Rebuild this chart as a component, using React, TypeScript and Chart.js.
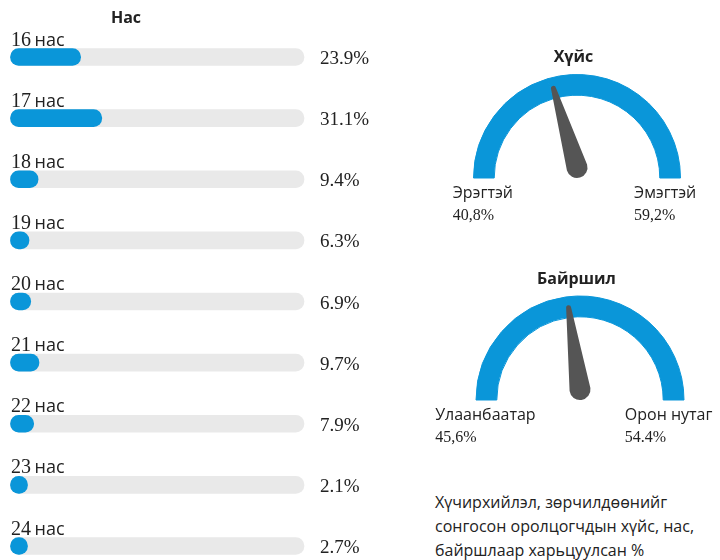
import React, { useEffect, useRef } from "react";
import { Chart, registerables } from "chart.js";

Chart.register(...registerables);

// ---------- DATA ----------
const ageTitle = "Нас";
const ageNumbers = ["16", "17", "18", "19", "20", "21", "22", "23", "24"];
const ageWord = "нас";
const ageValues = [23.9, 31.1, 9.4, 6.3, 6.9, 9.7, 7.9, 2.1, 2.7];
const ageValueLabels = ["23.9%", "31.1%", "9.4%", "6.3%", "6.9%", "9.7%", "7.9%", "2.1%", "2.7%"];
const ageMax = 100;

const genderTitle = "Хүйс";
const genderLabels = ["Эрэгтэй", "Эмэгтэй"];
const genderValues = [40.8, 59.2];
const genderValueLabels = ["40,8%", "59,2%"];

const locationTitle = "Байршил";
const locationLabels = ["Улаанбаатар", "Орон нутаг"];
const locationValues = [45.6, 54.4];
const locationValueLabels = ["45,6%", "54.4%"];

const noteLines = [
  "Хүчирхийлэл, зөрчилдөөнийг",
  "сонгосон оролцогчдын хүйс, нас,",
  "байршлаар харьцуулсан %",
];

// ---------- STYLE ----------
const BLUE = "#0a96d9";
const TRACK = "#e9e9e9";
const NEEDLE = "#555555";
const TEXT = "#222222";
const SERIF = '"Liberation Serif", "Times New Roman", serif';
const SANS = '"Open Sans", "Noto Sans", sans-serif';

function makeBarChart(canvas: HTMLCanvasElement) {
  const labelPlugin = {
    id: "ageLabels",
    afterDatasetsDraw(chart: any) {
      const { ctx, chartArea } = chart;
      const ys = chart.scales.y;
      const xs = chart.scales.x;
      ctx.save();
      ctx.fillStyle = TEXT;
      ctx.textBaseline = "alphabetic";
      ctx.textAlign = "center";
      ctx.font = `bold 16px ${SANS}`;
      ctx.fillText(ageTitle, 126, 22.7);
      ctx.textAlign = "left";
      ageNumbers.forEach((num, i) => {
        const y = ys.getPixelForValue(i);
        const x0 = chartArea.left + 0.5;
        ctx.font = `20px ${SERIF}`;
        ctx.fillText(num, x0, y - 11.4);
        const w = ctx.measureText(num).width;
        ctx.font = `18px ${SANS}`;
        ctx.fillText(ageWord, x0 + w + 3.5, y - 11.4);
        ctx.font = `19px ${SERIF}`;
        ctx.fillText(ageValueLabels[i], xs.getPixelForValue(ageMax) + 16, y + 7);
      });
      ctx.restore();
    },
  };

  return new Chart(canvas, {
    type: "bar",
    data: {
      labels: ageNumbers.map((n) => `${n} ${ageWord}`),
      datasets: [
        {
          data: ageValues,
          backgroundColor: BLUE,
          order: 1,
          minBarLength: 17,
        },
        {
          data: ageNumbers.map(() => ageMax),
          backgroundColor: TRACK,
          order: 2,
        },
      ],
    },
    options: {
      indexAxis: "y",
      animation: false,
      responsive: false,
      events: [],
      layout: { padding: { left: 10.5, right: 96, top: 57, bottom: 14 } },
      datasets: {
        bar: {
          grouped: false,
          barThickness: 17,
          borderRadius: 9,
          borderSkipped: false,
          clip: false,
        } as any,
      },
      scales: {
        x: { display: false, min: 0, max: ageMax },
        y: { display: false, offset: false },
      },
      plugins: {
        legend: { display: false },
        tooltip: { enabled: false },
        title: { display: false },
      },
    } as any,
    plugins: [labelPlugin],
  });
}

function makeGauge(
  canvas: HTMLCanvasElement,
  title: string,
  labels: string[],
  values: number[],
  valueLabels: string[],
  padding: { left: number; right: number; top: number; bottom: number }
) {
  const gaugePlugin = {
    id: "gaugeExtras",
    afterDatasetsDraw(chart: any) {
      const { ctx } = chart;
      const arc = chart.getDatasetMeta(0).data[0] as any;
      const cx = arc.x;
      const cy = arc.y;
      const outer = arc.outerRadius;
      const inner = arc.innerRadius;
      const total = values.reduce((a, b) => a + b, 0);
      const frac = values[0] / total;
      const angle = Math.PI + frac * Math.PI;

      // needle
      const px = cx;
      const py = cy - 10.5;
      const L = 82.5;
      const R = 10.5;
      const r = 2.5;
      ctx.save();
      ctx.translate(px, py);
      ctx.rotate(angle);
      ctx.beginPath();
      ctx.moveTo(0, -R);
      ctx.lineTo(L, -r);
      ctx.arc(L, 0, r, -Math.PI / 2, Math.PI / 2);
      ctx.lineTo(0, R);
      ctx.arc(0, 0, R, Math.PI / 2, (3 * Math.PI) / 2);
      ctx.closePath();
      ctx.fillStyle = NEEDLE;
      ctx.fill();
      ctx.restore();

      // title
      ctx.save();
      ctx.fillStyle = TEXT;
      ctx.textBaseline = "alphabetic";
      ctx.textAlign = "center";
      ctx.font = `bold 16px ${SANS}`;
      ctx.fillText(title, cx - 3.5, cy - 116);

      // labels
      const band = (outer + inner) / 2;
      const centers = [cx - band - 1, cx + band - 5];
      labels.forEach((lab, i) => {
        ctx.font = `16px ${SANS}`;
        const w = ctx.measureText(lab).width;
        let x0 = centers[i] - w / 2;
        x0 = Math.min(x0, chart.width - 7 - w);
        ctx.textAlign = "left";
        ctx.fillText(lab, x0, cy + 20);
        ctx.font = `16px ${SERIF}`;
        ctx.fillText(valueLabels[i], x0, cy + 41.5);
      });
      ctx.restore();
    },
  };

  return new Chart(canvas, {
    type: "doughnut",
    data: {
      labels,
      datasets: [
        {
          data: values,
          backgroundColor: values.map(() => BLUE),
          borderColor: values.map(() => BLUE),
          borderWidth: 1,
        },
      ],
    },
    options: {
      animation: false,
      responsive: false,
      events: [],
      rotation: -90,
      circumference: 180,
      cutout: "80%",
      layout: { padding },
      plugins: {
        legend: { display: false },
        tooltip: { enabled: false },
        title: { display: false },
      },
    } as any,
    plugins: [gaugePlugin],
  });
}

export default function App() {
  const barRef = useRef<HTMLCanvasElement>(null);
  const g1Ref = useRef<HTMLCanvasElement>(null);
  const g2Ref = useRef<HTMLCanvasElement>(null);

  useEffect(() => {
    const charts: Chart[] = [];
    if (barRef.current) charts.push(makeBarChart(barRef.current));
    if (g1Ref.current)
      charts.push(
        makeGauge(g1Ref.current, genderTitle, genderLabels, genderValues, genderValueLabels, {
          left: 52.5,
          right: 38.5,
          top: 44,
          bottom: 51.5,
        })
      );
    if (g2Ref.current)
      charts.push(
        makeGauge(g2Ref.current, locationTitle, locationLabels, locationValues, locationValueLabels, {
          left: 55,
          right: 35,
          top: 35.5,
          bottom: 59.5,
        })
      );
    return () => charts.forEach((c) => c.destroy());
  }, []);

  return (
    <div
      style={{
        position: "fixed",
        left: 0,
        top: 0,
        width: 720,
        height: 560,
        background: "#ffffff",
        overflow: "hidden",
      }}
    >
      <canvas
        ref={barRef}
        width={400}
        height={560}
        style={{ position: "absolute", left: 0, top: 0, width: 400, height: 560 }}
      />
      <canvas
        ref={g1Ref}
        width={300}
        height={200}
        style={{ position: "absolute", left: 420, top: 30, width: 300, height: 200 }}
      />
      <canvas
        ref={g2Ref}
        width={300}
        height={200}
        style={{ position: "absolute", left: 420, top: 260, width: 300, height: 200 }}
      />
      <div
        style={{
          position: "absolute",
          left: 435,
          top: 489.5,
          fontFamily: SANS,
          fontSize: 16,
          lineHeight: "24.3px",
          color: TEXT,
          whiteSpace: "nowrap",
        }}
      >
        {noteLines.map((l, i) => (
          <div key={i}>{l}</div>
        ))}
      </div>
    </div>
  );
}
